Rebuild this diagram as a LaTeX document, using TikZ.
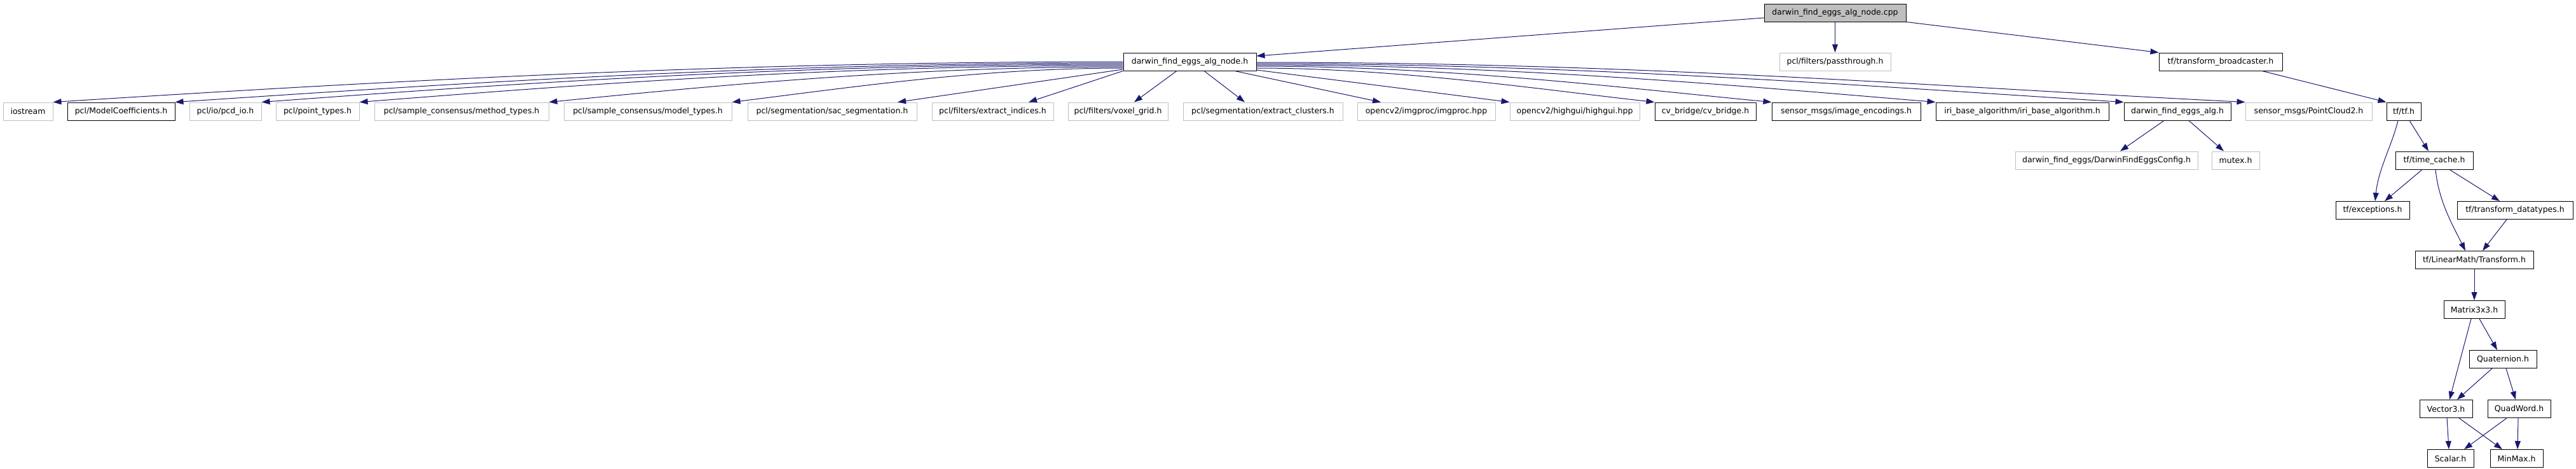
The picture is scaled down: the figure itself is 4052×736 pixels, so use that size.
\documentclass[tikz,border=0pt]{standalone}
\usepackage{fontspec}
\setmainfont{DejaVu Sans}
\usetikzlibrary{arrows.meta,calc}
\definecolor{edgecol}{HTML}{191970}
\definecolor{graybd}{HTML}{BFBFBF}
\definecolor{topfill}{HTML}{BFBFBF}
\tikzset{
 box/.style={draw, rectangle, inner sep=0pt, minimum height=28pt, font=\fontsize{12.5}{15}\selectfont, text=black, line width=1pt},
 docbox/.style={box, draw=black},
 extbox/.style={box, draw=graybd},
 topbox/.style={box, draw=black, fill=topfill},
 edge/.style={draw=edgecol, line width=1pt, -{Triangle[length=13pt,width=9pt]}},
}
\begin{document}
\begin{tikzpicture}[x=1pt,y=-1pt]
\useasboundingbox[fill=white] (0,0) rectangle (4052,736);
% row 0
\node[topbox, minimum width=223pt] (cpp) at (2886.5,20) {darwin\_find\_eggs\_alg\_node.cpp};
% row 1
\node[docbox, minimum width=209pt] (an) at (1871.5,97) {darwin\_find\_eggs\_alg\_node.h};
\node[extbox, minimum width=175pt] (pass) at (2886.5,97) {pcl/filters/passthrough.h};
\node[docbox, minimum width=194pt] (tfb) at (3493,97) {tf/transform\_broadcaster.h};
% row 2
\node[extbox, minimum width=78pt] (ios) at (44,175) {iostream};
\node[docbox, minimum width=169pt] (mc) at (190.5,175) {pcl/ModelCoefficients.h};
\node[extbox, minimum width=113pt] (pcd) at (354.5,175) {pcl/io/pcd\_io.h};
\node[extbox, minimum width=131pt] (pt) at (499.5,175) {pcl/point\_types.h};
\node[extbox, minimum width=274pt] (meth) at (726,175) {pcl/sample\_consensus/method\_types.h};
\node[extbox, minimum width=264pt] (model) at (1019,175) {pcl/sample\_consensus/model\_types.h};
\node[extbox, minimum width=266pt] (sac) at (1309,175) {pcl/segmentation/sac\_segmentation.h};
\node[extbox, minimum width=191pt] (ei) at (1561.5,175) {pcl/filters/extract\_indices.h};
\node[extbox, minimum width=157pt] (vg) at (1758.5,175) {pcl/filters/voxel\_grid.h};
\node[extbox, minimum width=251pt] (ec) at (1986.5,175) {pcl/segmentation/extract\_clusters.h};
\node[extbox, minimum width=217pt] (imgp) at (2243.5,175) {opencv2/imgproc/imgproc.hpp};
\node[extbox, minimum width=204pt] (hg) at (2477,175) {opencv2/highgui/highgui.hpp};
\node[docbox, minimum width=159pt] (cvb) at (2682.5,175) {cv\_bridge/cv\_bridge.h};
\node[docbox, minimum width=234pt] (ie) at (2904,175) {sensor\_msgs/image\_encodings.h};
\node[docbox, minimum width=272pt] (iri) at (3181,175) {iri\_base\_algorithm/iri\_base\_algorithm.h};
\node[docbox, minimum width=168pt] (alg) at (3425,175) {darwin\_find\_eggs\_alg.h};
\node[extbox, minimum width=199pt] (pc2) at (3631.5,175) {sensor\_msgs/PointCloud2.h};
\node[docbox, minimum width=54pt] (tf) at (3781,175) {tf/tf.h};
% row 3
\node[extbox, minimum width=287pt] (cfg) at (3313.5,252) {darwin\_find\_eggs/DarwinFindEggsConfig.h};
\node[extbox, minimum width=75pt] (mutex) at (3516.5,252) {mutex.h};
\node[docbox, minimum width=122pt] (tc) at (3829,252) {tf/time\_cache.h};
% row 4
\node[docbox, minimum width=116pt] (exc) at (3732,330.5) {tf/exceptions.h};
\node[docbox, minimum width=182pt] (td) at (3956,330.5) {tf/transform\_datatypes.h};
% row 5
\node[docbox, minimum width=186pt] (tr) at (3892,408.5) {tf/LinearMath/Transform.h};
% row 6
\node[docbox, minimum width=96pt] (m33) at (3892,486.5) {Matrix3x3.h};
% row 7
\node[docbox, minimum width=106pt] (q) at (3937,564.5) {Quaternion.h};
% row 8
\node[docbox, minimum width=83pt] (v3) at (3847.5,642.5) {Vector3.h};
\node[docbox, minimum width=99pt] (qw) at (3962.5,642.5) {QuadWord.h};
% row 9
\node[docbox, minimum width=73pt] (sc) at (3854.5,720.5) {Scalar.h};
\node[docbox, minimum width=83pt] (mm) at (3958.5,720.5) {MinMax.h};

% edges from cpp
\draw[edge] (cpp.west |- 0,28) -- (an.east |- 0,88);
\draw[edge] (cpp.south) -- (pass.north);
\draw[edge] (cpp.south east) -- (tfb.north west);
\draw[edge] (tfb.south -| 3558,0) -- (tf.north west);

% fan from alg_node.h, left
\draw[edge] (an.west |- 0,97) .. controls +(-600,0) and +(550,-35) .. (ios.north east);
\draw[edge] (an.west |- 0,99) .. controls +(-550,0) and +(480,-32) .. (mc.north east);
\draw[edge] (an.west |- 0,101) .. controls +(-500,0) and +(430,-32) .. (pcd.north east);
\draw[edge] (an.west |- 0,103) .. controls +(-450,0) and +(380,-30) .. (pt.north east);
\draw[edge] (an.west |- 0,105) .. controls +(-330,0) and +(280,-28) .. (meth.north east);
\draw[edge] (an.west |- 0,107) .. controls +(-220,0) and +(200,-25) .. (model.north east);
\draw[edge] (an.west |- 0,109) -- (sac.north -| 1412,0);
\draw[edge] (an.south west) -- (ei.north -| 1618,0);
\draw[edge] (an.south -| 1851,0) -- (vg.north -| 1784,0);
\draw[edge] (an.south -| 1894,0) -- (ec.north -| 1958,0);
\draw[edge] (an.south -| 1942,0) -- (imgp.north -| 2172,0);
% fan right
\draw[edge] (an.east |- 0,110) -- (hg.north west);
\draw[edge] (an.east |- 0,107) .. controls +(220,0) and +(-180,-20) .. (cvb.north west);
\draw[edge] (an.east |- 0,104) .. controls +(300,0) and +(-230,-22) .. (ie.north west);
\draw[edge] (an.east |- 0,102) .. controls +(400,0) and +(-300,-25) .. (iri.north west);
\draw[edge] (an.east |- 0,100) .. controls +(500,0) and +(-400,-25) .. (alg.north west);
\draw[edge] (an.east |- 0,98) .. controls +(600,0) and +(-500,-25) .. (pc2.north west);

% alg.h
\draw[edge] (alg.south -| 3404,0) -- (cfg.north -| 3335,0);
\draw[edge] (alg.south -| 3443,0) -- (mutex.north -| 3498,0);

% tf tree
\draw[edge] (tf.south -| 3772,0) .. controls +(-10,40) and +(5,-50) .. (exc.north -| 3736,0);
\draw[edge] (tf.south -| 3790,0) -- (tc.north -| 3820,0);
\draw[edge] (tc.south -| 3810,0) -- (exc.north -| 3751,0);
\draw[edge] (tc.south -| 3831,0) .. controls +(5,50) and +(-20,-40) .. (tr.north -| 3878,0);
\draw[edge] (tc.south -| 3853,0) -- (td.north -| 3932,0);
\draw[edge] (td.south -| 3943,0) -- (tr.north -| 3905,0);
\draw[edge] (tr.south) -- (m33.north);
\draw[edge] (m33.south -| 3887,0) -- (v3.north -| 3853,0);
\draw[edge] (m33.south -| 3900,0) -- (q.north -| 3928,0);
\draw[edge] (q.south -| 3920,0) -- (v3.north -| 3865,0);
\draw[edge] (q.south -| 3942,0) -- (qw.north -| 3957,0);
\draw[edge] (v3.south -| 3849,0) -- (sc.north -| 3852,0);
\draw[edge] (v3.south -| 3868,0) -- (mm.north -| 3936,0);
\draw[edge] (qw.south -| 3943,0) -- (sc.north -| 3876,0);
\draw[edge] (qw.south -| 3961,0) -- (mm.north -| 3960,0);
\end{tikzpicture}
\end{document}
